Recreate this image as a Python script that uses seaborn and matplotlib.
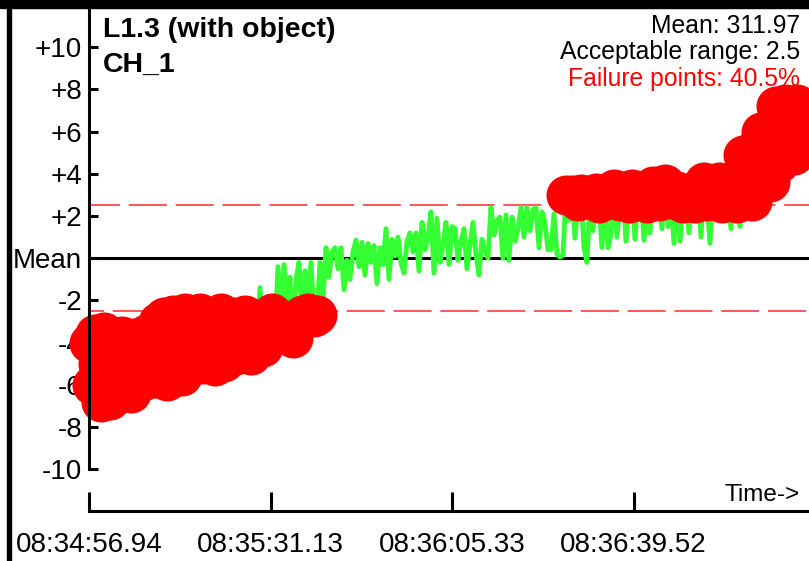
import numpy as np
import pandas as pd
import matplotlib
matplotlib.use("Agg")
import matplotlib.pyplot as plt
import seaborn as sns

# deviation from the mean, one reading every sample_period seconds
deviation = [
    -4.0, -6.0, -3.6, -5.0, -6.8, -3.5, -5.5, -6.7, -4.5, -6.3,
    -5.2, -3.7, -6.0, -4.6, -6.4, -3.8, -5.5, -4.4, -5.8, -3.6,
    -5.0, -4.1, -5.7, -3.0, -4.8, -2.8, -5.8, -3.9, -2.7, -5.2,
    -3.4, -5.6, -2.6, -4.4, -5.1, -3.0, -4.7, -2.6, -5.0, -3.8,
    -4.6, -2.9, -5.1, -3.5, -2.6, -4.9, -3.2, -4.2, -2.8, -4.6,
    -3.0, -4.5, -2.7, -3.9, -4.6, -2.9, -3.6, -1.4, -4.2, -3.1,
    -3.7, -2.6, -3.5, -0.4, -2.9, -0.3, -2.2, -0.9, -3.8, -1.0,
    -0.2, -2.7, -0.6, -2.6, -0.2, -2.8, -2.7, -0.2, -2.0, 0.5,
    -0.9, 0.3, 0.5, -0.5, 0.5, -1.5, -0.1, -1.0, 0.3, 0.85,
    -0.4, 0.75, -0.8, 0.7, -0.2, 0.6, -1.2, 0.5, -0.3, 1.4,
    -1.0, 0.9, 0.1, 1.0, -0.2, -0.7, 0.8, 1.2, 0.3, 1.2,
    -0.6, 1.7, 0.4, 1.0, 2.2, -0.7, 1.9, -0.2, 0.6, 1.7,
    -0.3, 1.5, 1.4, -0.1, 0.8, 1.4, -0.5, 0.6, 1.7, 0.2,
    -0.8, 0.9, 0.4, 0.0, 2.4, 1.1, 1.8, 1.95, 0.0, 2.05,
    -0.1, 1.95, 0.8, 1.4, 2.4, 1.0, 2.4, 1.3, 2.3, 2.4,
    0.5, 2.2, 1.7, 0.4, 0.4, 2.1, 0.2, 0.05, 0.15, 3.0,
    1.8, 3.0, 0.95, 2.7, 3.05, 0.5, -0.2, 2.8, 1.3, 3.1,
    2.6, 0.5, 2.9, 0.5, 1.1, 3.3, 1.0, 2.7, 3.2, 0.8,
    2.6, 3.3, 0.9, 2.8, 3.0, 0.85, 2.6, 1.2, 3.4, 3.1,
    2.7, 1.4, 3.5, 1.5, 2.8, 0.7, 3.2, 0.8, 2.6, 2.9,
    1.2, 3.1, 2.6, 3.3, 1.0, 3.6, 2.7, 0.7, 3.2, 2.9,
    3.6, 2.6, 3.3, 2.8, 1.4, 3.4, 2.6, 1.5, 4.9, 3.0,
    4.5, 2.7, 5.2, 3.4, 6.0, 4.2, 6.1, 3.6, 5.5, 7.2,
    4.5, 6.5, 7.3, 5.0, 6.8, 4.9, 7.3, 5.6, 7.0, 5.5, 6.5,
]
sample_period = 0.5651

tick_seconds = [0.0, 34.19, 68.39, 102.58]
tick_labels = ["08:34:56.94", "08:35:31.13", "08:36:05.33", "08:36:39.52"]
y_ticks = [10, 8, 6, 4, 2, 0, -2, -4, -6, -8, -10]
y_labels = ["+10", "+8", "+6", "+4", "+2", "Mean", "-2", "-4", "-6", "-8", "-10"]

mean_value = 311.97
acceptable_range = 2.5
failure_pct = 40.5
title = "L1.3 (with object)"
channel = "CH_1"

GREEN = "#33ff33"
RED = "#ff0000"

df = pd.DataFrame({"dev": deviation})
df["t"] = np.arange(len(df)) * sample_period
df["failed"] = df["dev"].abs() > acceptable_range

sns.set_theme(style="white")
plt.rcParams["font.family"] = ["Liberation Sans", "DejaVu Sans"]
plt.rcParams["lines.scale_dashes"] = False
plt.rcParams["text.color"] = "black"
plt.rcParams["xtick.color"] = "black"
plt.rcParams["ytick.color"] = "black"

W, H = 809, 561
fig = plt.figure(figsize=(W / 100, H / 100), dpi=100)
ax = fig.add_axes([89 / W, 1 - 511 / H, 720 / W, 503 / H])

ax.axhline(0, color="black", lw=2.2, zorder=1.5)
ax.axhline(acceptable_range, color="#ff3b3b", lw=1.2, zorder=1.6,
           linestyle=(5, (27.4, 6.3)))
ax.axhline(-acceptable_range, color="#ff3b3b", lw=1.2, zorder=1.6,
           linestyle=(16.6, (27.4, 6.3)))

sns.lineplot(data=df, x="t", y="dev", color=GREEN, linewidth=3.5,
             estimator=None, sort=False, ax=ax, zorder=1.8)
sns.scatterplot(data=df[df["failed"]], x="t", y="dev", color=RED, s=830,
                linewidth=0, ax=ax, zorder=2.2, clip_on=False, legend=False)

ax.set_xlim(0, 720 * 34.19 / 181.5)
ax.set_ylim(-11.98, 11.86)
ax.set_xlabel("")
ax.set_ylabel("")

ax.set_xticks(tick_seconds)
ax.set_xticklabels(tick_labels)
ax.set_yticks(y_ticks)
ax.set_yticklabels(y_labels)
ax.tick_params(axis="y", left=True, direction="in", length=6.5, width=2.2,
               pad=5, labelsize=20, colors="black")
ax.tick_params(axis="x", bottom=True, direction="in", length=14, width=2.2,
               pad=15, labelsize=20, colors="black")

for side in ["top", "right"]:
    ax.spines[side].set_visible(False)
ax.spines["left"].set_bounds(-10, 11.86)
for side in ["left", "bottom"]:
    ax.spines[side].set_linewidth(2.2)
    ax.spines[side].set_color("black")
    ax.spines[side].set_zorder(2.5)

# header texts
tf = fig.transFigure
ax.text(103 / W, 1 - 37 / H, title, transform=tf, fontsize=20.5,
        fontweight="bold", ha="left", va="baseline", zorder=2.1)
ax.text(103 / W, 1 - 72 / H, channel, transform=tf, fontsize=20.5,
        fontweight="bold", ha="left", va="baseline", zorder=2.1)
ax.text(800 / W, 1 - 33 / H, f"Mean: {mean_value}", transform=tf,
        fontsize=17.8, ha="right", va="baseline", zorder=2.1)
ax.text(800 / W, 1 - 59.5 / H, f"Acceptable range: {acceptable_range}",
        transform=tf, fontsize=17.8, ha="right", va="baseline", zorder=2.1)
ax.text(800 / W, 1 - 86 / H, f"Failure points: {failure_pct}%",
        transform=tf, fontsize=17.8, ha="right", va="baseline", color=RED,
        zorder=2.1)
ax.text(800 / W, 1 - 501 / H, "Time->", transform=tf, fontsize=17.5,
        ha="right", va="baseline", zorder=2.1)

# frame around the panel
fig.add_artist(plt.Rectangle((0, 1 - 8 / H), 1, 8 / H, transform=tf,
                             color="black", zorder=5))
fig.add_artist(plt.Rectangle((7.5 / W, 0), 3.5 / W, 1, transform=tf,
                             color="black", zorder=5))

fig.savefig("out.png", dpi=100)
